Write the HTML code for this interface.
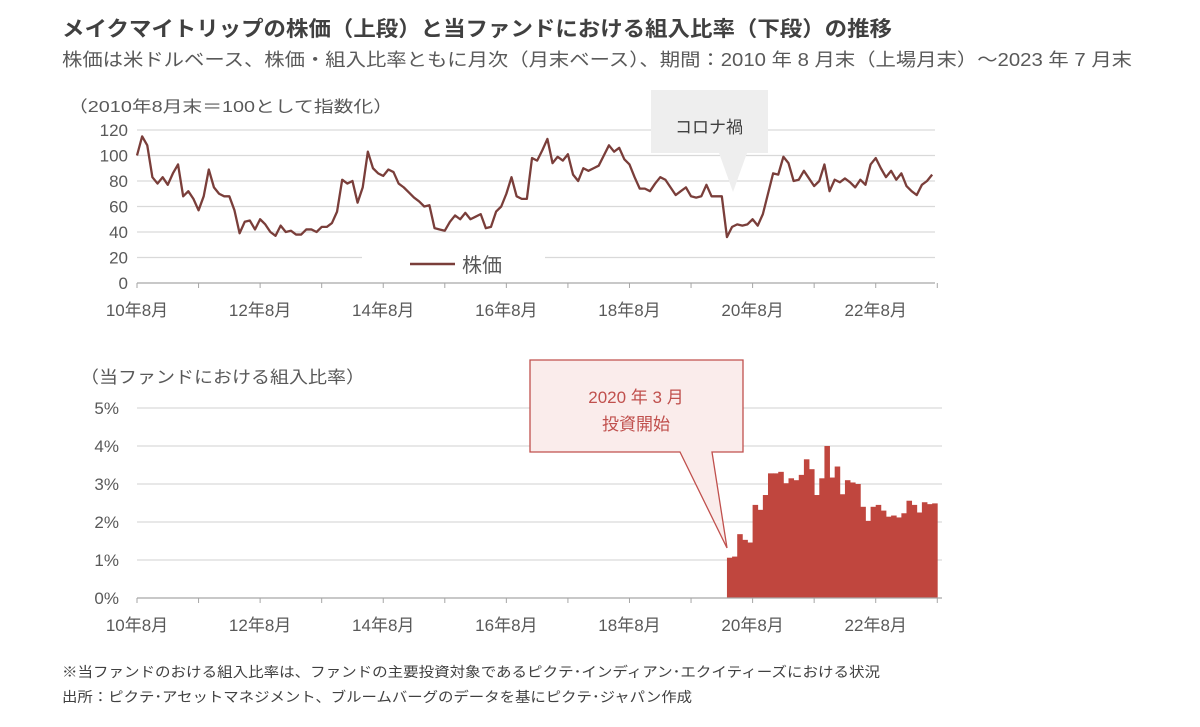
<!DOCTYPE html>
<html><head><meta charset="utf-8">
<style>
body{margin:0;background:#fff;width:1200px;height:722px;overflow:hidden;font-family:"Liberation Sans","Noto Sans CJK JP",sans-serif;color:#595959}
svg text{font-family:"Liberation Sans","Noto Sans CJK JP",sans-serif}
</style></head><body>
<svg id="c" width="1200" height="722">
<text x="62" y="36" font-size="21" font-weight="bold" fill="#404040" textLength="830" lengthAdjust="spacingAndGlyphs">メイクマイトリップの株価（上段）と当ファンドにおける組入比率（下段）の推移</text>
<text x="62" y="66" font-size="18" fill="#595959" textLength="1070" lengthAdjust="spacingAndGlyphs">株価は米ドルベース、株価・組入比率ともに月次（月末ベース）、期間：2010 年 8 月末（上場月末）～2023 年 7 月末</text>
<text x="68" y="112" font-size="16" fill="#595959" textLength="325" lengthAdjust="spacingAndGlyphs">（2010年8月末＝100として指数化）</text>
<text x="80" y="383" font-size="17" fill="#595959" textLength="285" lengthAdjust="spacingAndGlyphs">（当ファンドにおける組入比率）</text>
<text x="62" y="677" font-size="14" fill="#404040" textLength="818" lengthAdjust="spacingAndGlyphs">※当ファンドのおける組入比率は、ファンドの主要投資対象であるピクテ･インディアン･エクイティーズにおける状況</text>
<text x="62" y="702" font-size="14" fill="#404040" textLength="630" lengthAdjust="spacingAndGlyphs">出所：ピクテ･アセットマネジメント、ブルームバーグのデータを基にピクテ･ジャパン作成</text>
<g id="top"></g><g id="bot"></g>
</svg>
<script>
const xLabels=["10年8月","12年8月","14年8月","16年8月","18年8月","20年8月","22年8月"];
const priceTicks=[0,20,40,60,80,100,120];
const pctTicks=[0,1,2,3,4,5];
const price=[100,115,108,83,78,83,77,86,93,68,72,66,57,68,89,75,70,68,68,57,39,48,49,42,50,46,40,37,45,40,41,38,38,42,42,40,44,44,47,56,81,78,80,63,75,103,90,86,84,89,87,78,75,71,67,64,60,61,43,42,41,48,53,50,55,50,52,54,43,44,56,60,70,83,68,66,66,98,96,104,113,94,99,96,101,85,80,90,88,90,92,100,108,103,106,97,93,83,74,74,72,78,83,81,75,69,72,75,68,67,68,77,68,68,68,36,44,46,45,46,50,45,54,70,86,85,99,94,80,81,88,82,76,80,93,72,81,79,82,79,75,81,77,93,98,90,83,88,81,86,76,72,69,77,80,85];
const barStart=115;
const weights=[1.06,1.09,1.68,1.53,1.46,2.45,2.32,2.71,3.28,3.28,3.32,3.02,3.15,3.1,3.24,3.65,3.39,2.71,3.15,4.0,3.17,3.46,2.73,3.1,3.04,3.0,2.4,2.03,2.4,2.45,2.3,2.14,2.17,2.12,2.23,2.56,2.45,2.25,2.52,2.47,2.49];
const NS="http://www.w3.org/2000/svg";
const X0=137,MW=5.13;
function xm(i){return X0+MW*i}
function yTop(v){return 283-v*1.275}
function yBot(p){return 598-p*38}
function mk(parent,tag,attrs,txt){const e=document.createElementNS(NS,tag);for(const k in attrs)e.setAttribute(k,attrs[k]);if(txt!==undefined)e.textContent=txt;parent.appendChild(e);return e}
const gTop=document.getElementById('top'),gBot=document.getElementById('bot');
priceTicks.forEach(t=>{
 if(t>0){const g=mk(gTop,'line',{x1:X0,x2:935,y1:yTop(t),y2:yTop(t),stroke:'#d9d9d9','stroke-width':1.3});
 
 }
 const l=mk(gTop,'text',{x:128,y:yTop(t)+6,'font-size':17,'text-anchor':'end',fill:'#595959'},String(t));
 
 
});
pctTicks.forEach(t=>{
 if(t>0){const g=mk(gBot,'line',{x1:X0,x2:942,y1:yBot(t),y2:yBot(t),stroke:'#d9d9d9','stroke-width':1.3});
 
 }
 const l=mk(gBot,'text',{x:119,y:yBot(t)+6,'font-size':17,'text-anchor':'end',fill:'#595959'},t+'%');
 
 
});
weights.forEach((w,k)=>{
 const i=barStart+k;
 const r=mk(gBot,'rect',{x:xm(i),y:yBot(w),width:MW+0.4,height:yBot(0)-yBot(w),fill:'#c0463e'});
 
 
});
[[gTop,283,935],[gBot,598,942]].forEach(([g,y,xe])=>{
 const a=mk(g,'line',{x1:X0,x2:xe,y1:y,y2:y,stroke:'#a6a6a6','stroke-width':1.3});
 
 
 for(let i=0;i<=156;i+=12){const t=mk(g,'line',{x1:xm(i),x2:xm(i),y1:y,y2:y+5,stroke:'#a6a6a6'});
 
 }
 xLabels.forEach((s,k)=>{const l=mk(g,'text',{x:xm(k*24),y:y+33,'font-size':17,'text-anchor':'middle',fill:'#595959'},s);
 
 });
});
const pth=mk(gTop,'polyline',{points:price.map((v,i)=>xm(i)+','+yTop(v)).join(' '),fill:'none',stroke:'#7a3e3a','stroke-width':2.3,'stroke-linejoin':'round'});


const lg=mk(gTop,'g',{});


mk(lg,'rect',{x:362,y:250,width:183,height:28,fill:'#fff'});
mk(lg,'line',{x1:410,x2:455,y1:264,y2:264,stroke:'#7a3e3a','stroke-width':2.5});
mk(lg,'text',{x:462,y:272,'font-size':20,fill:'#595959'},'株価');
const c1=mk(gTop,'g',{});


mk(c1,'path',{d:'M651,90 H768 V153 H747 L733,192 L719,153 H651 Z',fill:'#eeeeee'});
mk(c1,'text',{x:709,y:133,'font-size':17,'text-anchor':'middle',fill:'#404040'},'コロナ禍');
const c2=mk(gBot,'g',{});


mk(c2,'path',{d:'M530,360 H743 V452 H712 L727,548 L680,452 H530 Z',fill:'#faeceb',stroke:'#c0504d','stroke-width':1.3});
mk(c2,'text',{x:636,y:403,'font-size':17,'text-anchor':'middle',fill:'#c0504d'},'2020 年 3 月');
mk(c2,'text',{x:636,y:430,'font-size':17,'text-anchor':'middle',fill:'#c0504d'},'投資開始');
</script>
</body></html>
